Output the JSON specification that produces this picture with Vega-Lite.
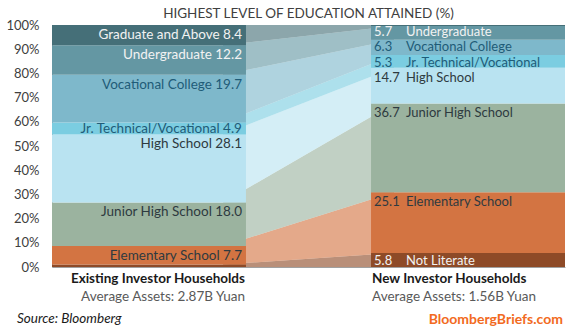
{
  "$schema": "https://vega.github.io/schema/vega-lite/v6.json",
  "width": 513,
  "height": 242,
  "autosize": {"type": "none"},
  "padding": {"left": 52, "top": 25, "right": 10, "bottom": 68},
  "title": {"text": "HIGHEST LEVEL OF EDUCATION ATTAINED (%)", "fontSize": 13.5, "fontWeight": "normal", "color": "#404040", "anchor": "middle", "offset": -1},
  "config": {"font": "Lato", "view": {"stroke": null}, "axis": {"grid": false}, "axisY": {"tickCount": 10, "labelOverlap": false}},
  "data": {"values": [
    {"group": "Existing", "level": "Not Literate", "k": 0, "value": 1.0},
    {"group": "Existing", "level": "Elementary School", "k": 1, "value": 7.7},
    {"group": "Existing", "level": "Junior High School", "k": 2, "value": 18.0},
    {"group": "Existing", "level": "High School", "k": 3, "value": 28.1},
    {"group": "Existing", "level": "Jr. Technical/Vocational", "k": 4, "value": 4.9},
    {"group": "Existing", "level": "Vocational College", "k": 5, "value": 19.7},
    {"group": "Existing", "level": "Undergraduate", "k": 6, "value": 12.2},
    {"group": "Existing", "level": "Graduate and Above", "k": 7, "value": 8.4},
    {"group": "New", "level": "Not Literate", "k": 0, "value": 5.8},
    {"group": "New", "level": "Elementary School", "k": 1, "value": 25.1},
    {"group": "New", "level": "Junior High School", "k": 2, "value": 36.7},
    {"group": "New", "level": "High School", "k": 3, "value": 14.7},
    {"group": "New", "level": "Jr. Technical/Vocational", "k": 4, "value": 5.3},
    {"group": "New", "level": "Vocational College", "k": 5, "value": 6.3},
    {"group": "New", "level": "Undergraduate", "k": 6, "value": 5.7},
    {"group": "New", "level": "Graduate and Above", "k": 7, "value": 0.4}
  ]},
  "transform": [
    {"stack": "value", "groupby": ["group"], "sort": [{"field": "k", "order": "ascending"}], "as": ["y0", "y1"]},
    {"calculate": "datum.level + ' ' + format(datum.value, '.1f')", "as": "labE"}
  ],
  "layer": [
    {
      "mark": {"type": "area", "opacity": 0.62},
      "encoding": {
        "x": {"field": "group", "type": "nominal", "scale": {"type": "point", "domain": ["Existing", "New"], "padding": 1.55}, "axis": null},
        "y": {"field": "y1", "type": "quantitative", "scale": {"domain": [0, 100], "nice": false},
          "axis": {"title": null, "tickCount": 10, "labelExpr": "datum.value + '%'", "labelOverlap": false, "labelSeparation": 0, "labelFlush": false, "ticks": false, "labelPadding": 13, "labelFontSize": 13, "labelColor": "#404040", "domainColor": "#A0A0A0", "grid": false}},
        "y2": {"field": "y0"},
        "color": {"field": "level", "type": "nominal", "legend": null,
          "scale": {"domain": ["Not Literate", "Elementary School", "Junior High School", "High School", "Jr. Technical/Vocational", "Vocational College", "Undergraduate", "Graduate and Above"],
                    "range": ["#8E4A27", "#D37442", "#9BB39F", "#B9E3F1", "#7BCDE1", "#7EB8CB", "#6497A3", "#456F78"]}}
      }
    },
    {
      "mark": {"type": "bar"},
      "encoding": {
        "x": {"field": "group", "type": "nominal", "scale": {"type": "band", "domain": ["Existing", "New"], "paddingInner": 0.392, "paddingOuter": 0},
          "axis": {"title": null, "labels": false, "ticks": false, "domainColor": "#A0A0A0"}},
        "y": {"field": "y1", "type": "quantitative", "axis": null},
        "y2": {"field": "y0"},
        "color": {"field": "level", "type": "nominal", "legend": null}
      }
    },
    {
      "transform": [{"filter": "datum.group == 'Existing' && datum.value >= 2"}],
      "mark": {"type": "text", "align": "right", "baseline": "middle", "dx": -4, "dy": {"expr": "datum.value < 5.5 ? 6 : 10"}, "fontSize": 13.5},
      "encoding": {
        "x": {"field": "group", "type": "nominal", "bandPosition": 1, "scale": {"type": "band", "domain": ["Existing", "New"], "paddingInner": 0.392, "paddingOuter": 0}, "axis": null},
        "y": {"field": "y1", "type": "quantitative", "axis": null},
        "text": {"field": "labE"},
        "color": {"condition": [
          {"test": "indexof(['Graduate and Above','Undergraduate','Not Literate'], datum.level) >= 0", "value": "#F2F2F2"},
          {"test": "indexof(['Vocational College','Jr. Technical/Vocational'], datum.level) >= 0", "value": "#1F5C78"}
        ], "value": "#2E3A40"}
      }
    },
    {
      "transform": [{"filter": "datum.group == 'New' && datum.value >= 2"}],
      "mark": {"type": "text", "align": "left", "baseline": "middle", "dx": 3, "dy": {"expr": "datum.level == 'Undergraduate' ? 6 : datum.level == 'Vocational College' ? 7 : datum.value < 7 ? 8 : 10"}, "fontSize": 13},
      "encoding": {
        "x": {"field": "group", "type": "nominal", "bandPosition": 0, "scale": {"type": "band", "domain": ["Existing", "New"], "paddingInner": 0.392, "paddingOuter": 0}, "axis": null},
        "y": {"field": "y1", "type": "quantitative", "axis": null},
        "text": {"field": "value", "format": ".1f"},
        "color": {"condition": [
          {"test": "indexof(['Graduate and Above','Undergraduate','Not Literate'], datum.level) >= 0", "value": "#F2F2F2"},
          {"test": "indexof(['Vocational College','Jr. Technical/Vocational'], datum.level) >= 0", "value": "#1F5C78"}
        ], "value": "#2E3A40"}
      }
    },
    {
      "transform": [{"filter": "datum.group == 'New' && datum.value >= 2"}],
      "mark": {"type": "text", "align": "left", "baseline": "middle", "dx": 35, "dy": {"expr": "datum.level == 'Undergraduate' ? 6 : datum.level == 'Vocational College' ? 7 : datum.value < 7 ? 8 : 10"}, "fontSize": 13},
      "encoding": {
        "x": {"field": "group", "type": "nominal", "bandPosition": 0, "scale": {"type": "band", "domain": ["Existing", "New"], "paddingInner": 0.392, "paddingOuter": 0}, "axis": null},
        "y": {"field": "y1", "type": "quantitative", "axis": null},
        "text": {"field": "level"},
        "color": {"condition": [
          {"test": "indexof(['Graduate and Above','Undergraduate','Not Literate'], datum.level) >= 0", "value": "#F2F2F2"},
          {"test": "indexof(['Vocational College','Jr. Technical/Vocational'], datum.level) >= 0", "value": "#1F5C78"}
        ], "value": "#2E3A40"}
      }
    },
    {
      "data": {"values": [{"name": "Existing Investor Households", "assets": "Average Assets: 2.87B Yuan"}]},
      "mark": {"type": "text", "align": "right", "baseline": "middle", "dx": -1, "dy": 12, "fontSize": 13.5, "fontWeight": "bold", "color": "#1A1A1A"},
      "encoding": {
        "x": {"datum": "Existing", "type": "nominal", "bandPosition": 1, "scale": {"type": "band", "domain": ["Existing", "New"], "paddingInner": 0.392, "paddingOuter": 0}, "axis": null},
        "y": {"datum": 0, "type": "quantitative", "axis": null},
        "text": {"field": "name"}
      }
    },
    {
      "data": {"values": [{"name": "Existing Investor Households", "assets": "Average Assets: 2.87B Yuan"}]},
      "mark": {"type": "text", "align": "right", "baseline": "middle", "dx": -1, "dy": 30, "fontSize": 13.5, "color": "#595959"},
      "encoding": {
        "x": {"datum": "Existing", "type": "nominal", "bandPosition": 1, "scale": {"type": "band", "domain": ["Existing", "New"], "paddingInner": 0.392, "paddingOuter": 0}, "axis": null},
        "y": {"datum": 0, "type": "quantitative", "axis": null},
        "text": {"field": "assets"}
      }
    },
    {
      "data": {"values": [{"name": "New Investor Households", "assets": "Average Assets: 1.56B Yuan"}]},
      "mark": {"type": "text", "align": "left", "baseline": "middle", "dx": 1, "dy": 12, "fontSize": 13.5, "fontWeight": "bold", "color": "#1A1A1A"},
      "encoding": {
        "x": {"datum": "New", "type": "nominal", "bandPosition": 0, "scale": {"type": "band", "domain": ["Existing", "New"], "paddingInner": 0.392, "paddingOuter": 0}, "axis": null},
        "y": {"datum": 0, "type": "quantitative", "axis": null},
        "text": {"field": "name"}
      }
    },
    {
      "data": {"values": [{"name": "New Investor Households", "assets": "Average Assets: 1.56B Yuan"}]},
      "mark": {"type": "text", "align": "left", "baseline": "middle", "dx": 1, "dy": 30, "fontSize": 13.5, "color": "#595959"},
      "encoding": {
        "x": {"datum": "New", "type": "nominal", "bandPosition": 0, "scale": {"type": "band", "domain": ["Existing", "New"], "paddingInner": 0.392, "paddingOuter": 0}, "axis": null},
        "y": {"datum": 0, "type": "quantitative", "axis": null},
        "text": {"field": "assets"}
      }
    },
    {
      "data": {"values": [{"t": "Source: Bloomberg"}]},
      "mark": {"type": "text", "align": "left", "baseline": "middle", "dx": -35, "dy": 52, "fontSize": 13.5, "fontStyle": "italic", "color": "#1A1A1A"},
      "encoding": {
        "x": {"datum": "Existing", "type": "nominal", "bandPosition": 0, "scale": {"type": "band", "domain": ["Existing", "New"], "paddingInner": 0.392, "paddingOuter": 0}, "axis": null},
        "y": {"datum": 0, "type": "quantitative", "axis": null},
        "text": {"field": "t"}
      }
    },
    {
      "data": {"values": [{"t": "BloombergBriefs.com"}]},
      "mark": {"type": "text", "align": "right", "baseline": "middle", "dx": -2, "dy": 53, "fontSize": 14, "fontWeight": "bold", "color": "#F26A21"},
      "encoding": {
        "x": {"datum": "New", "type": "nominal", "bandPosition": 1, "scale": {"type": "band", "domain": ["Existing", "New"], "paddingInner": 0.392, "paddingOuter": 0}, "axis": null},
        "y": {"datum": 0, "type": "quantitative", "axis": null},
        "text": {"field": "t"}
      }
    }
  ],
  "resolve": {"scale": {"x": "independent"}, "axis": {"y": "independent"}}
}
